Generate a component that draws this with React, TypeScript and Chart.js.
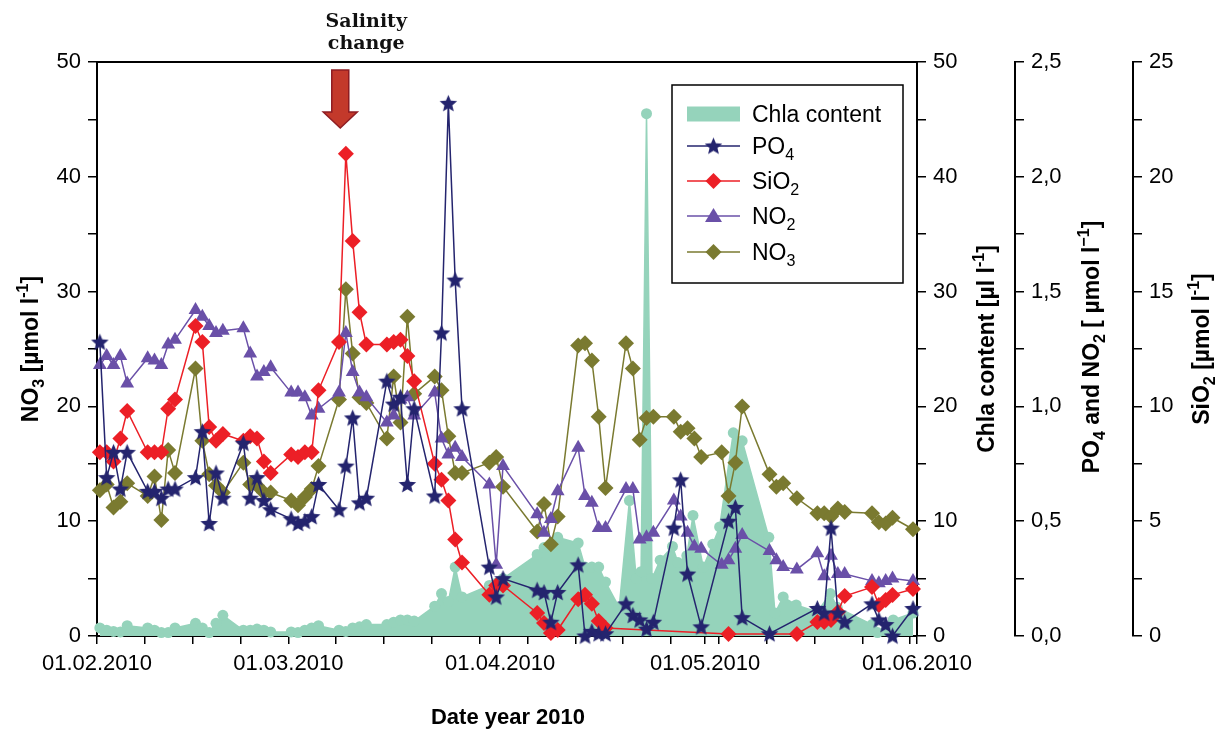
import React, { useEffect, useRef } from 'react';
import { Chart, registerables } from 'chart.js';

Chart.register(...registerables);

// Sampling days counted from 01.02.2010 (weekdays only)
const SAMPLE_DAYS = [
  0, 1, 2, 3, 4, 7, 8, 9, 10, 11, 14, 15, 16, 17, 18, 21, 22, 23, 24, 25,
  28, 29, 30, 31, 32, 35, 36, 37, 38, 39, 42, 43, 44, 45, 46, 49, 50, 51, 52, 53,
  57, 58, 59, 64, 65, 66, 67, 70, 71, 72, 73, 74, 77, 78, 79, 80, 81,
  84, 85, 86, 87, 88, 91, 92, 93, 94, 98, 99, 100, 102,
  105, 106, 107, 108, 109, 113, 114, 115, 116, 119,
];
// samples were taken mid-morning
const SAMPLE_TIME = 10 / 24;

// PO4 [µmol/l]
const PO4 = [
  1.28, 0.69, 0.8, 0.64, 0.8, 0.63, 0.63, 0.6, 0.64, 0.64,
  0.69, 0.89, 0.49, 0.71, 0.6, 0.84, 0.6, 0.69, 0.59, 0.55,
  0.51, 0.49, 0.5, 0.52, 0.66, 0.55, 0.74, 0.95, 0.58, 0.6,
  1.11, 1.01, 1.04, 0.66, 0.99, 0.61, 1.32, 2.32, 1.55, 0.99,
  0.3, 0.17, 0.25, 0.2, 0.19, 0.06, 0.19, 0.31, 0.0, 0.02, 0.01, 0.01,
  0.14, 0.09, 0.07, 0.03, 0.06, 0.47, 0.68, 0.27, null, 0.04,
  null, 0.5, 0.56, 0.08, 0.01, null, null, null,
  0.12, 0.1, 0.47, 0.1, 0.06, 0.14, 0.07, 0.05, 0.0, 0.12,
];
// SiO2 [µmol/l]
const SIO2 = [
  8.0, 8.0, 7.6, 8.6, 9.8, 8.0, 8.0, 8.0, 9.9, 10.3,
  13.5, 12.8, 9.1, 8.5, 8.8, 8.5, 8.7, 8.6, 7.6, 7.1,
  7.9, 7.8, 8.0, 8.0, 10.7, 12.8, 21.0, 17.2, 14.1, 12.7,
  12.7, 12.8, 12.9, 12.2, 11.1, 7.5, 6.8, 5.9, 4.2, 3.2,
  1.8, 2.2, 2.2, 1.0, 0.57, 0.13, 0.26, 1.6, 1.8, 1.4, 0.65, 0.35,
  null, null, null, null, null, null, null, null, null, null,
  null, 0.09, null, null, null, null, null, 0.09,
  0.61, 0.61, 0.7, 1.05, 1.74, 2.13, 1.35, 1.57, 1.79, 2.05,
];
// NO2 [µmol/l]
const NO2 = [
  1.18, 1.22, 1.18, 1.22, 1.1, 1.21, 1.2, 1.18, 1.27, 1.29,
  1.42, 1.39, 1.35, 1.32, 1.33, 1.34, 1.23, 1.13, 1.15, 1.17,
  1.06, 1.06, 1.04, 0.96, 0.99, 1.06, 1.32, 1.15, 1.06, 1.04,
  0.93, 0.96, 1.03, 1.04, 0.96, 1.06, 0.86, 0.79, 0.82, 0.78,
  0.66, 0.31, 0.74, 0.53, 0.45, 0.51, 0.63, 0.82, 0.61, 0.58, 0.47, 0.47,
  0.64, 0.64, 0.42, 0.43, 0.45, 0.59, 0.52, 0.45, 0.39, 0.38,
  0.31, 0.33, 0.38, 0.44, 0.37, 0.33, 0.3, 0.29,
  0.36, 0.26, 0.35, 0.27, 0.27, 0.24, 0.23, 0.24, 0.25, 0.24,
];
// NO3 [µmol/l]
const NO3 = [
  12.7, 13.2, 11.2, 11.7, 13.3, 12.2, 13.9, 10.1, 16.2, 14.2,
  23.3, 17.0, 14.1, 13.1, 12.5, 15.1, 13.2, 13.1, 12.5, 12.5,
  11.8, 11.4, 12.1, 12.8, 14.8, 20.6, 30.2, 24.6, 20.8, 20.3,
  17.2, 22.6, 18.6, 27.8, 21.1, 22.6, 21.4, 17.4, 14.2, 14.2,
  15.1, 15.6, 13.0, 9.1, 11.5, 8.0, 10.4, 25.3, 25.5, 24.0, 19.1, 12.9,
  25.5, 23.3, 17.1, 19.0, 19.1, 19.1, 17.8, 18.1, 17.2, 15.6,
  16.0, 12.2, 15.1, 20.0, 14.1, 13.0, 13.3, 12.0,
  10.7, 10.7, 10.4, 11.1, 10.8, 10.7, 9.9, 9.8, 10.3, 9.3,
];

// Chlorophyll a, measured on its own schedule [µl/l]
const CHLA_DAYS = [
  0, 1, 2, 3, 4, 7, 8, 9, 10, 11, 14, 15, 16, 17, 18, 21, 22, 23, 24, 25,
  28, 29, 30, 31, 32, 35, 36, 37, 38, 39, 42, 43, 44, 45, 46, 49, 50, 51, 52, 53,
  57, 58, 59, 64, 65, 66, 67, 70, 71, 72, 73, 74, 76, 77.5, 78.5, 79.2, 80, 80.8,
  82, 83.8, 84.6, 85.9, 86.8, 88.3, 89.7, 90.7, 92.7, 94, 97.9, 98.8, 100, 101.9,
  105, 106.9, 107.9, 113, 113.8, 116.1, 119,
];
const CHLA = [
  0.7, 0.5, 0.4, 0.35, 0.9, 0.7, 0.5, 0.3, 0.3, 0.7, 1.1, 0.7, 0.3, 1.1, 1.8, 0.5, 0.5, 0.6, 0.5, 0.35,
  0.35, 0.3, 0.5, 0.7, 0.9, 0.5, 0.4, 0.7, 0.8, 1.0, 1.0, 1.2, 1.4, 1.4, 1.3, 2.6, 3.7, 3.0, 6.0, 3.4,
  4.4, 4.6, 5.0, 7.1, 7.7, 7.9, 8.6, 8.1, 6.0, 6.0, 6.0, 4.7, 2.5, 11.8, 5.0, 5.6, 45.5, 5.0,
  6.6, 7.8, 6.4, 7.0, 10.5, 6.0, 8.0, 9.5, 17.7, 17.0, 8.6, 2.0, 3.4, 2.7,
  2.1, 3.7, 2.5, 1.0, 0.3, 1.4, 2.0,
];

// x axis: weekly ticks plus the first of each month
const WEEK_TICKS = [0, 7, 14, 21, 28, 35, 42, 49, 56, 63, 70, 77, 84, 91, 98, 105, 112, 119];
const MONTH_TICKS = [0, 28, 59, 89, 120];
const MONTH_LABELS = ['01.02.2010', '01.03.2010', '01.04.2010', '01.05.2010', '01.06.2010'];

const COLORS = {
  chla: '#95d3bb',
  po4: '#24246e',
  sio2: '#ec1f26',
  no2: '#6a50a8',
  no3: '#7a7a30',
};

const FONT = "'Liberation Sans', Arial, Helvetica, sans-serif";
const TICK_SIZE = 22;
const TITLE_SIZE = 23;

type Seg = { t: string; s?: 'sub' | 'sup' };

function drawRich(
  ctx: CanvasRenderingContext2D,
  segs: Seg[],
  x: number,
  y: number,
  size: number,
  weight: string,
  align: 'left' | 'center',
  angle: number,
) {
  ctx.save();
  ctx.translate(x, y);
  ctx.rotate(angle);
  const small = size * 0.7;
  const fontOf = (sz: number) => `${weight} ${sz}px ${FONT}`;
  let total = 0;
  const widths = segs.map((sg) => {
    ctx.font = fontOf(sg.s ? small : size);
    const w = ctx.measureText(sg.t).width;
    total += w;
    return w;
  });
  let cx = align === 'center' ? -total / 2 : 0;
  ctx.textAlign = 'left';
  ctx.textBaseline = 'alphabetic';
  ctx.fillStyle = '#000';
  segs.forEach((sg, i) => {
    ctx.font = fontOf(sg.s ? small : size);
    const dy = sg.s === 'sub' ? size * 0.28 : sg.s === 'sup' ? -size * 0.45 : 0;
    ctx.fillText(sg.t, cx, dy);
    cx += widths[i];
  });
  ctx.restore();
}

function makeStar(color: string, size: number): HTMLCanvasElement {
  const c = document.createElement('canvas');
  c.width = size;
  c.height = size;
  const g = c.getContext('2d') as CanvasRenderingContext2D;
  const cx = size / 2;
  const cy = size / 2 + 0.6;
  const R = size / 2 - 0.3;
  const r = R * 0.45;
  g.beginPath();
  for (let i = 0; i < 10; i++) {
    const ang = -Math.PI / 2 + (i * Math.PI) / 5;
    const rr = i % 2 === 0 ? R : r;
    const px = cx + rr * Math.cos(ang);
    const py = cy + rr * Math.sin(ang);
    if (i === 0) g.moveTo(px, py);
    else g.lineTo(px, py);
  }
  g.closePath();
  g.fillStyle = color;
  g.fill();
  return c;
}

function series(days: number[], values: (number | null)[]) {
  const pts: { x: number; y: number }[] = [];
  days.forEach((d, i) => {
    const v = values[i];
    if (v !== null && v !== undefined) pts.push({ x: d + SAMPLE_TIME, y: v });
  });
  return pts;
}

function isMultiple(v: number, step: number) {
  return Math.abs(v / step - Math.round(v / step)) < 1e-6;
}

export default function App() {
  const ref = useRef<HTMLCanvasElement | null>(null);

  useEffect(() => {
    const canvas = ref.current;
    if (!canvas) return;
    const star = makeStar(COLORS.po4, 19);

    const axisCommon = (min: number, max: number, step: number, label: (v: number) => string, width: number, position: 'left' | 'right') => ({
      type: 'linear' as const,
      position,
      min,
      max,
      ticks: {
        stepSize: step,
        callback: (v: any) => label(Number(v)),
        padding: 7,
        color: '#000',
        font: { size: TICK_SIZE, family: FONT },
      },
      grid: { drawOnChartArea: false, drawTicks: true, tickLength: 9, color: '#000', lineWidth: 1.5 },
      border: { display: true, color: '#000', width: 2 },
      title: { display: false },
      afterFit: (s: any) => {
        s.width = width;
      },
    });

    const decor = {
      id: 'decor',
      afterDraw(chart: any) {
        const ctx: CanvasRenderingContext2D = chart.ctx;
        const a = chart.chartArea;
        const sc = chart.scales;
        ctx.save();
        // top frame line
        ctx.strokeStyle = '#000';
        ctx.lineWidth = 2;
        ctx.beginPath();
        ctx.moveTo(a.left - 1, a.top);
        ctx.lineTo(a.right + 1, a.top);
        ctx.stroke();

        // axis titles
        const midY = (a.top + a.bottom) / 2;
        const tSize = TITLE_SIZE;
        drawRich(ctx, [{ t: 'NO' }, { t: '3', s: 'sub' }, { t: ' [µmol l' }, { t: '-1', s: 'sup' }, { t: ']' }],
          38, midY, tSize, 'bold', 'center', -Math.PI / 2);
        drawRich(ctx, [{ t: 'Chla content [µl l' }, { t: '-1', s: 'sup' }, { t: ']' }],
          sc.yC.left + 77, midY, tSize, 'bold', 'center', -Math.PI / 2);
        drawRich(ctx, [{ t: 'PO' }, { t: '4', s: 'sub' }, { t: ' and NO' }, { t: '2', s: 'sub' }, { t: ' [ µmol l' }, { t: '−1', s: 'sup' }, { t: ']' }],
          sc.yP.left + 84, midY - 2, tSize, 'bold', 'center', -Math.PI / 2);
        drawRich(ctx, [{ t: 'SiO' }, { t: '2', s: 'sub' }, { t: ' [µmol l' }, { t: '-1', s: 'sup' }, { t: ']' }],
          sc.yS.left + 76, midY, tSize, 'bold', 'center', -Math.PI / 2);
        drawRich(ctx, [{ t: 'Date year 2010' }], (a.left + a.right) / 2 + 1, 724, tSize - 1, 'bold', 'center', 0);

        // salinity change annotation
        ctx.fillStyle = '#111';
        ctx.textAlign = 'center';
        ctx.textBaseline = 'alphabetic';
        ctx.font = "bold 19px 'DejaVu Serif', serif";
        const ax = sc.x.getPixelForValue(35.6);
        ctx.fillText('Salinity', ax + 26, 27);
        ctx.fillText('change', ax + 26, 49);
        // arrow pointing down
        const top = a.top + 8;
        const tipY = a.top + 66;
        const headY = a.top + 50;
        ctx.beginPath();
        ctx.moveTo(ax - 8.5, top);
        ctx.lineTo(ax + 8.5, top);
        ctx.lineTo(ax + 8.5, headY);
        ctx.lineTo(ax + 17, headY);
        ctx.lineTo(ax, tipY);
        ctx.lineTo(ax - 17, headY);
        ctx.lineTo(ax - 8.5, headY);
        ctx.closePath();
        ctx.fillStyle = '#c3392b';
        ctx.fill();
        ctx.strokeStyle = '#8e1c22';
        ctx.lineWidth = 1.5;
        ctx.stroke();

        // legend
        const L = { left: a.right - 245, top: a.top + 23, right: a.right - 14, bottom: a.top + 221 };
        ctx.fillStyle = '#fff';
        ctx.fillRect(L.left, L.top, L.right - L.left, L.bottom - L.top);
        ctx.strokeStyle = '#000';
        ctx.lineWidth = 1.5;
        ctx.strokeRect(L.left, L.top, L.right - L.left, L.bottom - L.top);
        const x0 = L.left + 15;
        const x1 = L.left + 68;
        const xm = (x0 + x1) / 2;
        const xt = L.left + 80;
        const rows = [L.top + 29, L.top + 61, L.top + 96, L.top + 131, L.top + 167];
        const lSize = 23;
        // Chla
        ctx.fillStyle = COLORS.chla;
        ctx.fillRect(x0, rows[0] - 7.5, x1 - x0, 15);
        drawRich(ctx, [{ t: 'Chla content' }], xt, rows[0] + 8, lSize, 'normal', 'left', 0);
        const line = (y: number, color: string) => {
          ctx.strokeStyle = color;
          ctx.lineWidth = 1.5;
          ctx.beginPath();
          ctx.moveTo(x0, y);
          ctx.lineTo(x1, y);
          ctx.stroke();
        };
        // PO4
        line(rows[1], COLORS.po4);
        ctx.drawImage(star, xm - 9.5, rows[1] - 9.5);
        drawRich(ctx, [{ t: 'PO' }, { t: '4', s: 'sub' }], xt, rows[1] + 8, lSize, 'normal', 'left', 0);
        // SiO2
        line(rows[2], COLORS.sio2);
        ctx.fillStyle = COLORS.sio2;
        ctx.beginPath();
        ctx.moveTo(xm, rows[2] - 8);
        ctx.lineTo(xm + 8, rows[2]);
        ctx.lineTo(xm, rows[2] + 8);
        ctx.lineTo(xm - 8, rows[2]);
        ctx.closePath();
        ctx.fill();
        drawRich(ctx, [{ t: 'SiO' }, { t: '2', s: 'sub' }], xt, rows[2] + 8, lSize, 'normal', 'left', 0);
        // NO2
        line(rows[3], COLORS.no2);
        ctx.fillStyle = COLORS.no2;
        ctx.beginPath();
        ctx.moveTo(xm, rows[3] - 8);
        ctx.lineTo(xm + 8.5, rows[3] + 6);
        ctx.lineTo(xm - 8.5, rows[3] + 6);
        ctx.closePath();
        ctx.fill();
        drawRich(ctx, [{ t: 'NO' }, { t: '2', s: 'sub' }], xt, rows[3] + 8, lSize, 'normal', 'left', 0);
        // NO3
        line(rows[4], COLORS.no3);
        ctx.fillStyle = COLORS.no3;
        ctx.beginPath();
        ctx.moveTo(xm, rows[4] - 8);
        ctx.lineTo(xm + 8, rows[4]);
        ctx.lineTo(xm, rows[4] + 8);
        ctx.lineTo(xm - 8, rows[4]);
        ctx.closePath();
        ctx.fill();
        drawRich(ctx, [{ t: 'NO' }, { t: '3', s: 'sub' }], xt, rows[4] + 8, lSize, 'normal', 'left', 0);
        ctx.restore();
      },
    };

    const lineDs = (label: string, data: any[], color: string, axis: string, style: any, radius: number) => ({
      label,
      data,
      yAxisID: axis,
      borderColor: color,
      backgroundColor: color,
      borderWidth: 1.5,
      pointStyle: style,
      pointRadius: radius,
      pointBackgroundColor: color,
      pointBorderColor: color,
      pointBorderWidth: 0,
      tension: 0,
      fill: false,
      clip: false as const,
    });

    const chart = new Chart(canvas, {
      type: 'line',
      data: {
        datasets: [
          lineDs('PO4', series(SAMPLE_DAYS, PO4), COLORS.po4, 'yP', star, 9),
          lineDs('SiO2', series(SAMPLE_DAYS, SIO2), COLORS.sio2, 'yS', 'rectRot', 8),
          lineDs('NO2', series(SAMPLE_DAYS, NO2), COLORS.no2, 'yP', 'triangle', 8),
          lineDs('NO3', series(SAMPLE_DAYS, NO3), COLORS.no3, 'y', 'rectRot', 8),
          {
            label: 'Chla content',
            data: series(CHLA_DAYS, CHLA),
            yAxisID: 'yC',
            borderColor: COLORS.chla,
            backgroundColor: COLORS.chla,
            borderWidth: 1.5,
            pointStyle: 'circle',
            pointRadius: 5.5,
            pointBackgroundColor: COLORS.chla,
            pointBorderColor: COLORS.chla,
            pointBorderWidth: 0,
            tension: 0,
            fill: 'origin',
            clip: false as const,
          },
        ],
      },
      options: {
        responsive: false,
        animation: false,
        events: [],
        layout: { padding: { top: 62, left: 0, right: 0, bottom: 0 } },
        plugins: { legend: { display: false }, tooltip: { enabled: false } },
        scales: {
          x: {
            type: 'linear',
            position: 'bottom',
            min: 0,
            max: 120,
            afterBuildTicks: (s: any) => {
              const vals = Array.from(new Set([...WEEK_TICKS, ...MONTH_TICKS])).sort((p, q) => p - q);
              s.ticks = vals.map((v) => ({ value: v }));
            },
            ticks: {
              autoSkip: false,
              maxRotation: 0,
              padding: 7,
              color: '#000',
              font: { size: TICK_SIZE, family: FONT },
              callback: (v: any) => {
                const i = MONTH_TICKS.indexOf(Number(v));
                return i >= 0 ? MONTH_LABELS[i] : '';
              },
            },
            grid: { drawOnChartArea: false, drawTicks: true, tickLength: 8, color: '#000', lineWidth: 1.5 },
            border: { display: true, color: '#000', width: 2 },
            afterFit: (s: any) => {
              s.height = 95;
            },
          },
          y: axisCommon(0, 50, 5, (v) => (isMultiple(v, 10) ? String(v) : ''), 97, 'left'),
          yC: axisCommon(0, 50, 5, (v) => (isMultiple(v, 10) ? String(v) : ''), 98, 'right'),
          yP: axisCommon(0, 2.5, 0.25, (v) => (isMultiple(v, 0.5) ? v.toFixed(1).replace('.', ',') : ''), 118, 'right'),
          yS: axisCommon(0, 25, 2.5, (v) => (isMultiple(v, 5) ? String(Math.round(v)) : ''), 87, 'right'),
        } as any,
      },
      plugins: [decor],
    });

    return () => chart.destroy();
  }, []);

  return (
    <div style={{ position: 'fixed', left: 0, top: 0, width: 1220, height: 731, background: '#fff' }}>
      <canvas ref={ref} width={1220} height={731} style={{ display: 'block', width: 1220, height: 731 }} />
    </div>
  );
}
